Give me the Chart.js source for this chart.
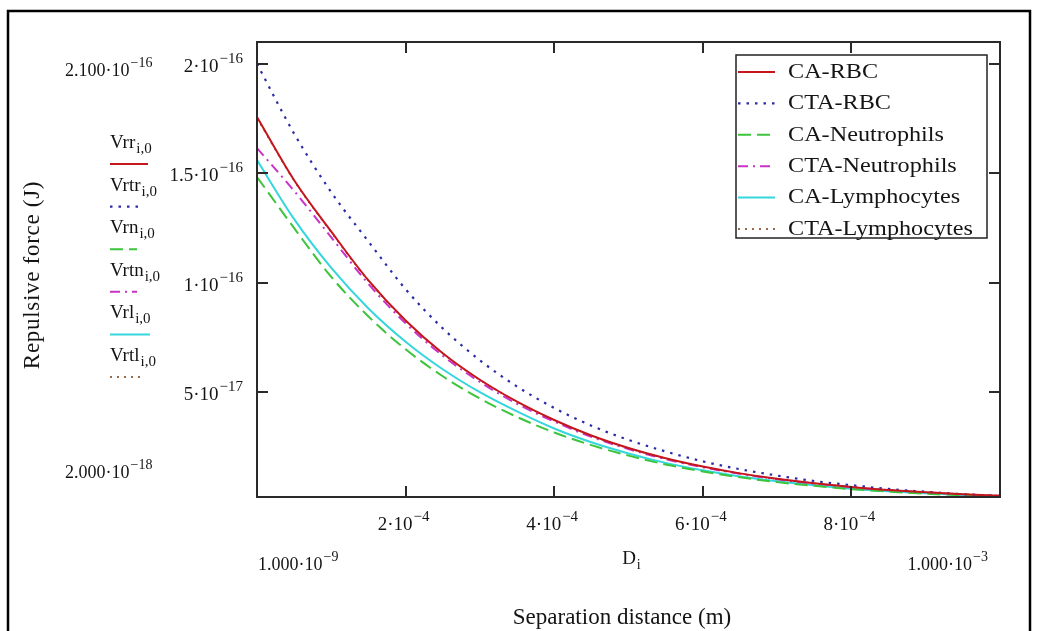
<!DOCTYPE html>
<html>
<head>
<meta charset="utf-8">
<script src="https://cdn.jsdelivr.net/npm/chart.js@4.4.1/dist/chart.umd.min.js"></script>
<style>
  html, body { margin: 0; padding: 0; background: #fff; }
  canvas { display: block; }
</style>
</head>
<body>
<canvas id="c" width="1038" height="631"></canvas>
<script>
// Separation distance D (m)
const distance = [1e-9, 5e-5, 1e-4, 1.5e-4, 2e-4, 2.5e-4, 3e-4, 3.5e-4, 4e-4, 4.5e-4, 5e-4,
                  5.5e-4, 6e-4, 6.5e-4, 7e-4, 7.5e-4, 8e-4, 8.5e-4, 9e-4, 9.5e-4, 1e-3];

// Repulsive force (J) for each cell / coating pair
const caRBC   = [1.757e-16, 1.468e-16, 1.233e-16, 1.010e-16, 8.27e-17, 6.77e-17, 5.56e-17, 4.56e-17, 3.72e-17, 3.01e-17, 2.44e-17,
                 1.97e-17, 1.59e-17, 1.28e-17, 1.03e-17, 8.3e-18, 6.6e-18, 5.2e-18, 4.2e-18, 3.3e-18, 2.6e-18];
const ctaRBC  = [2.000e-16, 1.681e-16, 1.413e-16, 1.188e-16, 9.70e-17, 7.91e-17, 6.45e-17, 5.25e-17, 4.27e-17, 3.46e-17, 2.81e-17,
                 2.28e-17, 1.83e-17, 1.47e-17, 1.18e-17, 9.3e-18, 7.4e-18, 5.7e-18, 4.4e-18, 3.3e-18, 2.5e-18];
const caNeut  = [1.483e-16, 1.249e-16, 1.026e-16, 8.45e-17, 6.95e-17, 5.72e-17, 4.70e-17, 3.86e-17, 3.15e-17, 2.57e-17, 2.09e-17,
                 1.69e-17, 1.37e-17, 1.10e-17, 8.8e-18, 7.1e-18, 5.6e-18, 4.5e-18, 3.5e-18, 2.8e-18, 2.2e-18];
const ctaNeut = [1.615e-16, 1.419e-16, 1.207e-16, 9.94e-17, 8.14e-17, 6.66e-17, 5.46e-17, 4.46e-17, 3.65e-17, 2.95e-17, 2.39e-17,
                 1.93e-17, 1.56e-17, 1.26e-17, 1.01e-17, 8.1e-18, 6.5e-18, 5.1e-18, 4.1e-18, 3.2e-18, 2.5e-18];
const caLymph = [1.560e-16, 1.290e-16, 1.067e-16, 8.82e-17, 7.30e-17, 6.04e-17, 4.99e-17, 4.11e-17, 3.33e-17, 2.70e-17, 2.19e-17,
                 1.76e-17, 1.42e-17, 1.14e-17, 9.2e-18, 7.4e-18, 5.8e-18, 4.6e-18, 3.7e-18, 2.9e-18, 2.3e-18];
const ctaLymph = [1.752e-16, 1.466e-16, 1.230e-16, 1.008e-16, 8.26e-17, 6.76e-17, 5.55e-17, 4.55e-17, 3.71e-17, 3.00e-17, 2.43e-17,
                 1.96e-17, 1.58e-17, 1.27e-17, 1.02e-17, 8.2e-18, 6.5e-18, 5.2e-18, 4.1e-18, 3.3e-18, 2.6e-18];

const seriesNames = ['CA-RBC', 'CTA-RBC', 'CA-Neutrophils', 'CTA-Neutrophils', 'CA-Lymphocytes', 'CTA-Lymphocytes'];
const traceNames  = ['Vrr', 'Vrtr', 'Vrn', 'Vrtn', 'Vrl', 'Vrtl'];

// Axis limits and tick labels (mantissa, exponent)
const xLimits = [1e-9, 1e-3];
const yLimits = [2e-18, 2.1e-16];
const xLimitText = [['1.000', '−9'], ['1.000', '−3']];
const yLimitText = [['2.000', '−18'], ['2.100', '−16']];
const xTicks = [2e-4, 4e-4, 6e-4, 8e-4];
const xTickText = [['2', '−4'], ['4', '−4'], ['6', '−4'], ['8', '−4']];
const yTicks = [5e-17, 1e-16, 1.5e-16, 2e-16];
const yTickText = [['5', '−17'], ['1', '−16'], ['1.5', '−16'], ['2', '−16']];

const styles = [
  { color: '#c4161c', dash: [],            width: 2 },
  { color: '#2b2ba6', dash: [2.5, 6],      width: 2.2 },
  { color: '#3cc43c', dash: [13, 6],       width: 2 },
  { color: '#c832c8', dash: [10, 5, 2, 5], width: 2 },
  { color: '#35d6dc', dash: [],            width: 2 },
  { color: '#7a3a10', dash: [2, 5],        width: 1.5 }
];
// sample lengths for the trace names at the left
const sampleEnds = [148, 143, 137, 137, 150, 142];

const seriesValues = [caRBC, ctaRBC, caNeut, ctaNeut, caLymph, ctaLymph];
const datasets = seriesValues.map((vals, i) => ({
  label: seriesNames[i],
  data: distance.map((d, k) => ({ x: d, y: vals[k] })),
  borderColor: styles[i].color,
  borderDash: styles[i].dash,
  borderWidth: styles[i].width,
  pointRadius: 0,
  fill: false,
  cubicInterpolationMode: 'monotone'
}));

const SERIF = '"Liberation Serif", "Times New Roman", serif';
const INK = '#141414';

// Draws "m·10^e" with a raised exponent
function sci(ctx, mant, exp, x, y, align, size, supSize) {
  const main = mant + '·10';
  ctx.font = size + 'px ' + SERIF;
  const w1 = ctx.measureText(main).width;
  ctx.font = supSize + 'px ' + SERIF;
  const w2 = ctx.measureText(exp).width;
  const total = w1 + 1 + w2;
  let x0 = x;
  if (align === 'center') x0 = x - total / 2;
  else if (align === 'right') x0 = x - total;
  ctx.textAlign = 'left';
  ctx.textBaseline = 'middle';
  ctx.fillStyle = INK;
  ctx.font = size + 'px ' + SERIF;
  ctx.fillText(main, x0, y);
  ctx.font = supSize + 'px ' + SERIF;
  ctx.fillText(exp, x0 + w1 + 1, y - size * 0.42);
}

function strokeSample(ctx, st, x1, x2, y) {
  ctx.save();
  ctx.strokeStyle = st.color;
  ctx.lineWidth = st.width;
  ctx.setLineDash(st.dash);
  ctx.beginPath();
  ctx.moveTo(x1, y);
  ctx.lineTo(x2, y);
  ctx.stroke();
  ctx.restore();
}

const mathcadFrame = {
  id: 'mathcadFrame',
  beforeDraw(chart) {
    const ctx = chart.ctx;
    ctx.save();
    ctx.fillStyle = '#fff';
    ctx.fillRect(0, 0, chart.width, chart.height);
    ctx.strokeStyle = '#000';
    ctx.lineWidth = 2.5;
    ctx.strokeRect(8, 11, 1022, 640);
    ctx.restore();
  },
  afterDatasetsDraw(chart) {
    const ctx = chart.ctx;
    const a = chart.chartArea;
    const xs = chart.scales.x, ys = chart.scales.y;
    ctx.save();

    // plot frame
    ctx.strokeStyle = '#2a2a2a';
    ctx.lineWidth = 2;
    ctx.strokeRect(a.left, a.top, a.right - a.left, a.bottom - a.top);

    // inward ticks on all four sides
    const tl = 11;
    ctx.beginPath();
    xTicks.forEach(v => {
      const px = Math.round(xs.getPixelForValue(v));
      ctx.moveTo(px, a.bottom); ctx.lineTo(px, a.bottom - tl);
      ctx.moveTo(px, a.top);    ctx.lineTo(px, a.top + tl);
    });
    yTicks.forEach(v => {
      const py = Math.round(ys.getPixelForValue(v));
      ctx.moveTo(a.left, py);  ctx.lineTo(a.left + tl, py);
      ctx.moveTo(a.right, py); ctx.lineTo(a.right - tl, py);
    });
    ctx.stroke();

    // tick labels
    yTicks.forEach((v, i) => {
      const py = ys.getPixelForValue(v);
      sci(ctx, yTickText[i][0], yTickText[i][1], a.left - 14, py + 3, 'right', 19, 15);
    });
    xTicks.forEach((v, i) => {
      const px = xs.getPixelForValue(v);
      sci(ctx, xTickText[i][0], xTickText[i][1], px - 2, a.bottom + 28, 'center', 19, 15);
    });

    // axis limits
    sci(ctx, yLimitText[1][0], yLimitText[1][1], 65, ys.getPixelForValue(yLimits[1]) + 29, 'left', 18, 14);
    sci(ctx, yLimitText[0][0], yLimitText[0][1], 65, ys.getPixelForValue(yLimits[0]) - 24, 'left', 18, 14);
    sci(ctx, xLimitText[0][0], xLimitText[0][1], xs.getPixelForValue(xLimits[0]) + 1, a.bottom + 68, 'left', 18, 14);
    sci(ctx, xLimitText[1][0], xLimitText[1][1], xs.getPixelForValue(xLimits[1]) - 12, a.bottom + 68, 'right', 18, 14);

    // x variable name D_i
    ctx.fillStyle = INK;
    ctx.textBaseline = 'middle';
    ctx.textAlign = 'left';
    ctx.font = '19px ' + SERIF;
    const wD = ctx.measureText('D').width;
    ctx.fillText('D', 632 - wD / 2 - 3, a.bottom + 62);
    ctx.font = '14px ' + SERIF;
    ctx.fillText('i', 632 + wD / 2 - 2, a.bottom + 68);

    // axis titles
    ctx.font = '23px ' + SERIF;
    ctx.textAlign = 'center';
    ctx.fillText('Separation distance (m)', 622, 618);
    ctx.save();
    ctx.translate(33, 275);
    ctx.rotate(-Math.PI / 2);
    ctx.letterSpacing = '0.7px';
    ctx.fillText('Repulsive force (J)', 0, 0);
    ctx.restore();

    // trace names with their line samples, left of the plot
    chart.data.datasets.forEach((ds, i) => {
      const ty = 143 + i * 42.6;
      ctx.fillStyle = INK;
      ctx.textAlign = 'left';
      ctx.textBaseline = 'middle';
      ctx.font = '19px ' + SERIF;
      const w = ctx.measureText(traceNames[i]).width;
      ctx.fillText(traceNames[i], 110, ty);
      ctx.font = '15px ' + SERIF;
      ctx.fillText('i,0', 110 + w + 1, ty + 6);
      strokeSample(ctx, styles[i], 110, sampleEnds[i], ty + 21);
    });

    // legend box
    const bx = 736, by = 55, bw = 251, bh = 183;
    ctx.fillStyle = '#fff';
    ctx.fillRect(bx, by, bw, bh);
    ctx.strokeStyle = '#222';
    ctx.lineWidth = 1.5;
    ctx.setLineDash([]);
    ctx.strokeRect(bx, by, bw, bh);
    chart.data.datasets.forEach((ds, i) => {
      const ly = 72 + i * 31.4;
      strokeSample(ctx, styles[i], 738, 775, ly);
      ctx.save();
      ctx.translate(788, ly);
      ctx.scale(1.1, 1);
      ctx.fillStyle = INK;
      ctx.font = '22px ' + SERIF;
      ctx.textAlign = 'left';
      ctx.textBaseline = 'middle';
      ctx.fillText(ds.label, 0, 0);
      ctx.restore();
    });

    ctx.restore();
  }
};

new Chart(document.getElementById('c'), {
  type: 'line',
  data: { datasets },
  options: {
    responsive: false,
    animation: false,
    layout: { padding: { left: 257, top: 42, right: 38, bottom: 134 } },
    plugins: { legend: { display: false }, tooltip: { enabled: false } },
    scales: {
      x: { type: 'linear', min: xLimits[0], max: xLimits[1], display: false },
      y: { type: 'linear', min: yLimits[0], max: yLimits[1], display: false }
    }
  },
  plugins: [mathcadFrame]
});
</script>
</body>
</html>
